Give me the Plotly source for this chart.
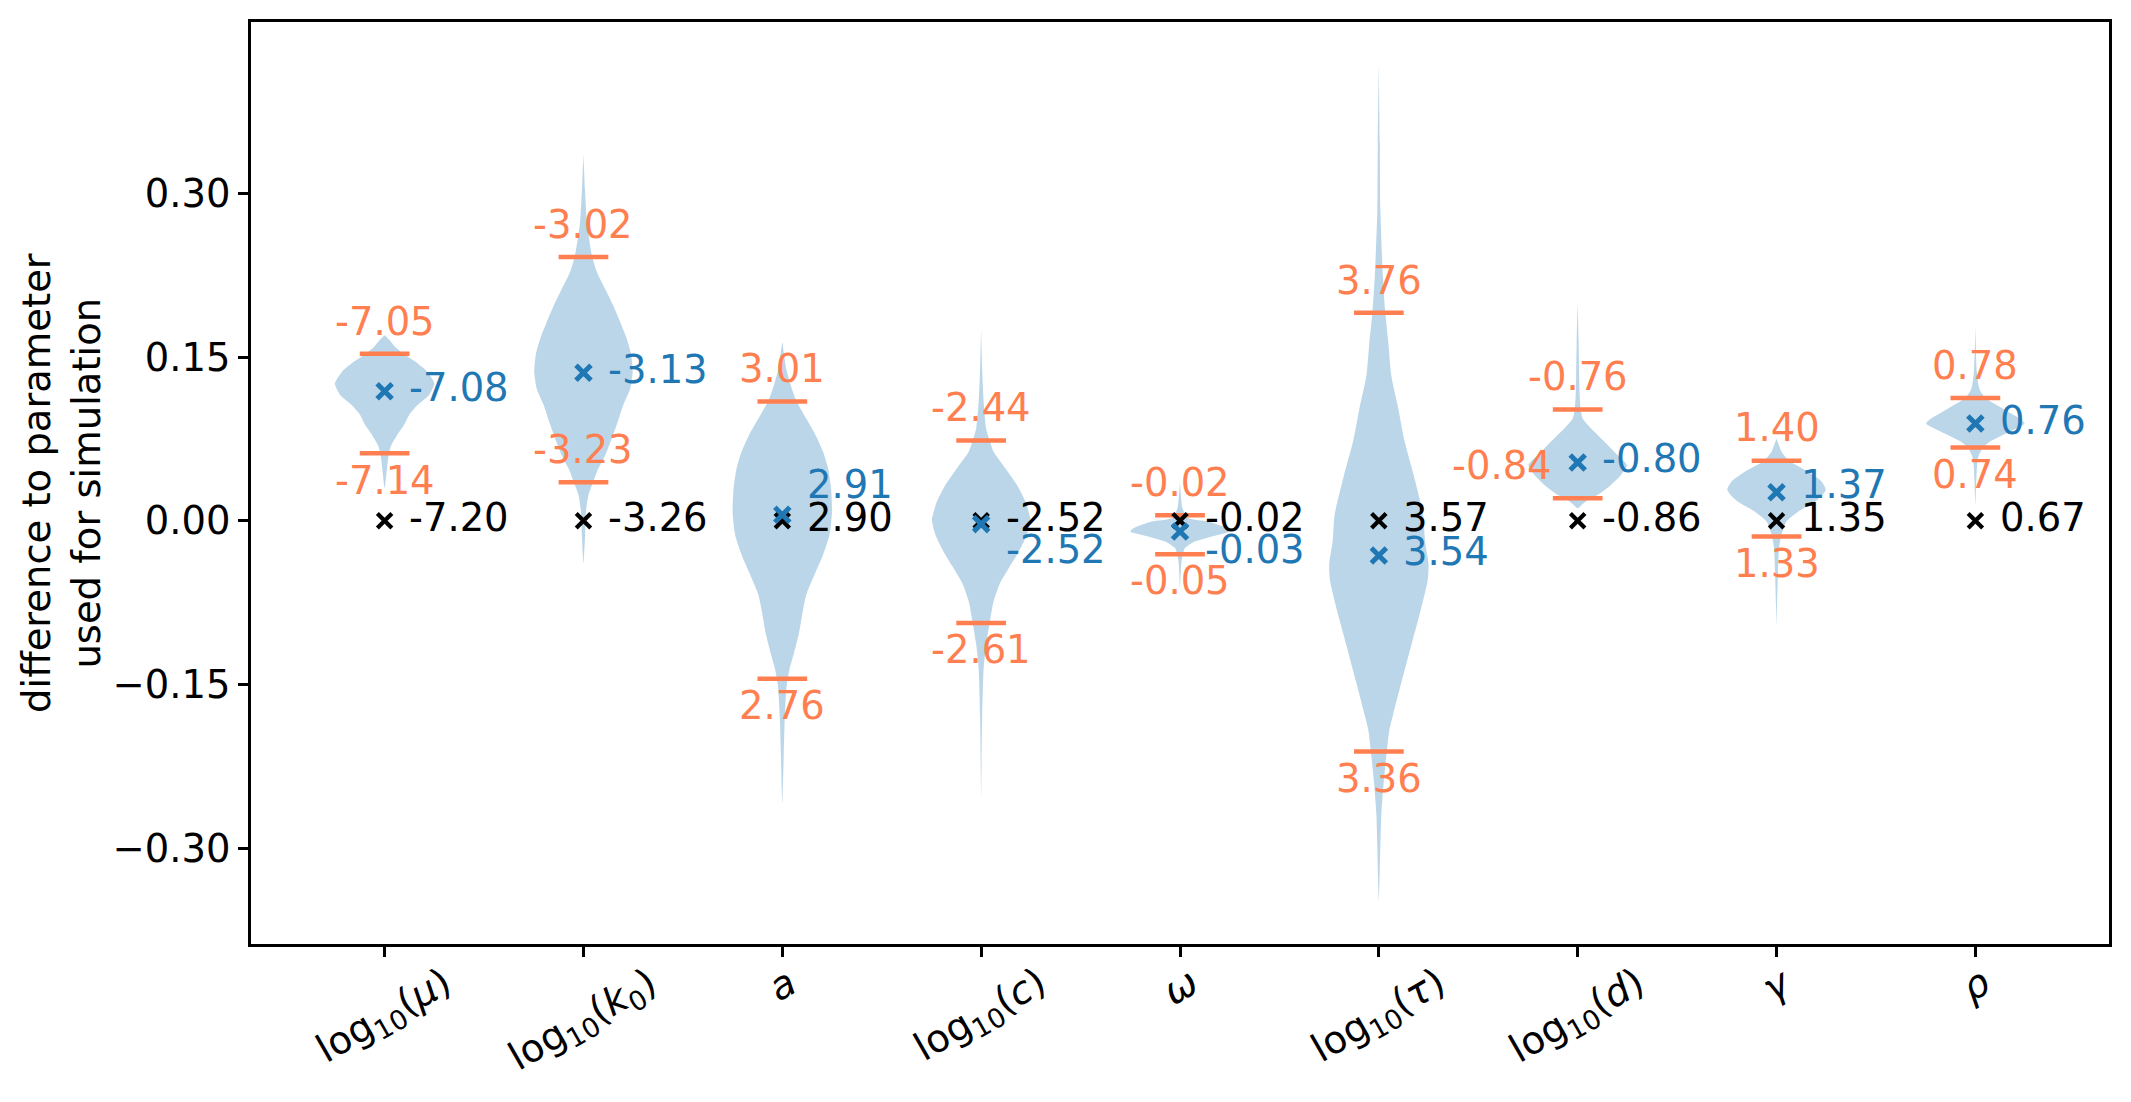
import plotly.graph_objects as go

# parameter names (tick labels)
params = [
    'log<sub>10</sub>(<i>μ</i>)', 'log<sub>10</sub>(<i>k</i><sub>0</sub>)', '<i>a</i>',
    'log<sub>10</sub>(<i>c</i>)', '<i>ω</i>', 'log<sub>10</sub>(<i>τ</i>)',
    'log<sub>10</sub>(<i>d</i>)', '<i>γ</i>', '<i>ρ</i>'
]

# quantile lines, estimate and true value (difference to simulation parameter)
upper_q = [0.153, 0.2417, 0.1092, 0.0736, 0.0051, 0.1905, 0.1019, 0.0551, 0.1126]
lower_q = [0.0618, 0.0353, -0.1447, -0.0935, -0.0305, -0.2113, 0.0206, -0.0143, 0.0672]
est_diff = [0.1187, 0.1357, 0.0055, -0.003, -0.0098, -0.0317, 0.0535, 0.0261, 0.0891]
true_diff = [0, 0, 0, 0, 0, 0, 0, 0, 0]

# parameter values printed next to the marks
upper_txt = ['-7.05', '-3.02', '3.01', '-2.44', '-0.02', '3.76', '-0.76', '1.40', '0.78']
lower_txt = ['-7.14', '-3.23', '2.76', '-2.61', '-0.05', '3.36', '-0.84', '1.33', '0.74']
est_txt = ['-7.08', '-3.13', '2.91', '-2.52', '-0.03', '3.54', '-0.80', '1.37', '0.76']
true_txt = ['-7.20', '-3.26', '2.90', '-2.52', '-0.02', '3.57', '-0.86', '1.35', '0.67']

# violin outlines: y and relative half width (1 = widest)
profile_y = [
    [0.030, 0.045, 0.060, 0.069, 0.0785, 0.0877, 0.0968, 0.106, 0.115, 0.1257, 0.1364,
     0.1456, 0.153, 0.160, 0.166, 0.170],
    [-0.039, -0.016, 0.0085, 0.0237, 0.036, 0.045, 0.0603, 0.0754, 0.0907, 0.106, 0.121,
     0.136, 0.152, 0.167, 0.182, 0.197, 0.212, 0.228, 0.243, 0.273, 0.304, 0.336],
    [-0.259, -0.211, -0.18, -0.15, -0.135, -0.122, -0.104, -0.086, -0.068, -0.049, -0.031,
     -0.0128, 0.0085, 0.0298, 0.048, 0.0633, 0.0785, 0.0937, 0.109, 0.124, 0.139, 0.164],
    [-0.253, -0.18, -0.135, -0.113, -0.0935, -0.0737, -0.058, -0.043, -0.028, -0.0128, 0.001,
     0.0176, 0.0329, 0.048, 0.0633, 0.0736, 0.0846, 0.109, 0.139, 0.176],
    [-0.0616, -0.037, -0.025, -0.019, -0.0143, -0.0098, -0.0068, -0.0006, 0.0024, 0.0115, 0.036],
    [-0.348, -0.299, -0.268, -0.238, -0.2113, -0.192, -0.177, -0.147, -0.116, -0.0858, -0.0554,
     -0.040, -0.019, 0.0055, 0.042, 0.0724, 0.103, 0.133, 0.1637, 0.1905, 0.225, 0.285, 0.346, 0.418],
    [0.0115, 0.0146, 0.0206, 0.0237, 0.0329, 0.042, 0.0511, 0.0603, 0.0724, 0.0846, 0.0937,
     0.1019, 0.115, 0.133, 0.164, 0.2],
    [-0.0965, -0.077, -0.046, -0.025, -0.0143, -0.0098, -0.0006, 0.0085, 0.0176, 0.0283, 0.0359,
     0.045, 0.0551, 0.0633, 0.0754],
    [0.0146, 0.039, 0.0572, 0.0672, 0.0724, 0.0815, 0.0891, 0.0937, 0.103, 0.1126, 0.121, 0.136, 0.179],
]
profile_w = [
    [0, 0.04, 0.08, 0.13, 0.25, 0.39, 0.49, 0.66, 0.89, 1.0, 0.86, 0.62, 0.38, 0.2, 0.09, 0],
    [0, 0.03, 0.05, 0.1, 0.2, 0.27, 0.44, 0.57, 0.69, 0.8, 0.94, 0.99, 0.96, 0.87, 0.74, 0.6,
     0.44, 0.27, 0.17, 0.07, 0.03, 0],
    [0, 0.03, 0.05, 0.09, 0.15, 0.23, 0.33, 0.4, 0.48, 0.65, 0.82, 0.95, 1.0, 0.98, 0.92, 0.82,
     0.67, 0.48, 0.29, 0.17, 0.08, 0],
    [0, 0.02, 0.05, 0.1, 0.17, 0.25, 0.37, 0.56, 0.76, 0.92, 0.99, 0.89, 0.72, 0.49, 0.25, 0.17,
     0.1, 0.05, 0.02, 0],
    [0, 0.03, 0.1, 0.3, 0.64, 1.0, 0.94, 0.57, 0.17, 0.05, 0],
    [0, 0.03, 0.05, 0.1, 0.16, 0.21, 0.29, 0.46, 0.64, 0.82, 0.98, 1.0, 0.93, 0.89, 0.7, 0.52,
     0.39, 0.25, 0.19, 0.13, 0.08, 0.03, 0.02, 0],
    [0, 0.08, 0.25, 0.4, 0.67, 0.87, 0.99, 0.8, 0.54, 0.27, 0.1, 0.06, 0.04, 0.03, 0.02, 0],
    [0, 0.01, 0.03, 0.05, 0.09, 0.12, 0.2, 0.44, 0.78, 0.99, 0.91, 0.64, 0.25, 0.1, 0],
    [0, 0.02, 0.05, 0.15, 0.29, 0.69, 0.99, 0.89, 0.55, 0.2, 0.08, 0.03, 0],
]

ORANGE = '#ff7f50'
BLUE = '#1f77b4'
FONT = 'DejaVu Sans'
FS = 38.5
HALF_W = 0.25   # violin half width at widest point
BAR_HALF = 0.125

positions = list(range(1, len(params) + 1))

fig = go.Figure()

# violins
for p, ys, ws in zip(positions, profile_y, profile_w):
    xs = [p + HALF_W * w for w in ws] + [p - HALF_W * w for w in reversed(ws)]
    yy = list(ys) + list(reversed(ys))
    fig.add_trace(go.Scatter(
        x=xs, y=yy, mode='lines', fill='toself',
        fillcolor='rgba(31,119,180,0.3)', line=dict(width=0, shape='spline', smoothing=0.6),
        hoverinfo='skip', showlegend=False
    ))

# quantile bars
bx, by = [], []
for p, hi, lo in zip(positions, upper_q, lower_q):
    bx += [p - BAR_HALF, p + BAR_HALF, None, p - BAR_HALF, p + BAR_HALF, None]
    by += [hi, hi, None, lo, lo, None]
fig.add_trace(go.Scatter(x=bx, y=by, mode='lines', line=dict(color=ORANGE, width=4.5),
                         hoverinfo='skip', showlegend=False))

# true value (black x) and estimate (blue x)
fig.add_trace(go.Scatter(x=positions, y=true_diff, mode='markers',
                         marker=dict(symbol='x-thin', size=14.5, line=dict(color='black', width=4.2)),
                         showlegend=False))
fig.add_trace(go.Scatter(x=positions, y=est_diff, mode='markers',
                         marker=dict(symbol='x-thin', size=15, line=dict(color=BLUE, width=5)),
                         showlegend=False))

# label offsets in pixels (dx, dy up, xanchor); a few labels were pushed aside in the original
default_off = {
    'upper': (0, 32.7, 'center'),
    'lower': (0, -26.7, 'center'),
    'est': (22.5, 3.5, 'left'),
    'true': (22.5, 3.5, 'left'),
}
special_off = {
    (1, 'lower'): (0, 32.4, 'center'),
    (2, 'est'): (22.5, 30, 'left'),
    (3, 'est'): (22.5, -25.6, 'left'),
    (4, 'est'): (22.5, -18.3, 'left'),
    (6, 'lower'): (-23.3, 32.7, 'right'),
    (7, 'est'): (22.5, 8, 'left'),
}

annotations = []
for i, p in enumerate(positions):
    for kind, vals, txts, color in [
        ('upper', upper_q, upper_txt, ORANGE),
        ('lower', lower_q, lower_txt, ORANGE),
        ('true', true_diff, true_txt, 'black'),
        ('est', est_diff, est_txt, BLUE),
    ]:
        dx, dy, xa = special_off.get((i, kind), default_off[kind])
        annotations.append(dict(
            x=p, y=vals[i], xref='x', yref='y', text=txts[i], showarrow=False,
            xanchor=xa, yanchor='middle', xshift=dx, yshift=dy,
            font=dict(family=FONT, size=FS, color=color)
        ))

# rotated x tick labels
for p, name in zip(positions, params):
    annotations.append(dict(
        x=p, y=0, xref='x', yref='paper', text=name, showarrow=False,
        textangle=-30, xanchor='center', yanchor='top', yshift=-12,
        font=dict(family=FONT, size=FS, color='black')
    ))

# y axis title
annotations.append(dict(
    x=0, y=0.5, xref='paper', yref='paper', showarrow=False,
    text='difference to parameter<br>used for simulation', textangle=-90,
    xanchor='center', yanchor='middle', xshift=-190,
    font=dict(family=FONT, size=FS, color='black')
))

# page body adds an 8px margin, so the figure is drawn 16px smaller
fig.update_layout(
    width=2115, height=1086,
    margin=dict(l=243, r=11, t=11, b=150, pad=0),
    plot_bgcolor='white', paper_bgcolor='white',
    font=dict(family=FONT, size=FS, color='black'),
    annotations=annotations,
    xaxis=dict(range=[0.328, 9.672], tickvals=positions, showticklabels=False,
               ticks='outside', ticklen=10, tickwidth=2.5, tickcolor='black',
               showline=True, linecolor='black', linewidth=2.5, mirror=True,
               showgrid=False, zeroline=False),
    yaxis=dict(range=[-0.3876, 0.4569], tickvals=[-0.30, -0.15, 0.0, 0.15, 0.30],
               tickformat='.2f', ticks='outside', ticklen=10, tickwidth=2.5, tickcolor='black',
               tickfont=dict(family=FONT, size=FS, color='black'),
               showline=True, linecolor='black', linewidth=2.5, mirror=True,
               showgrid=False, zeroline=False),
)

fig.write_html("out.html")
